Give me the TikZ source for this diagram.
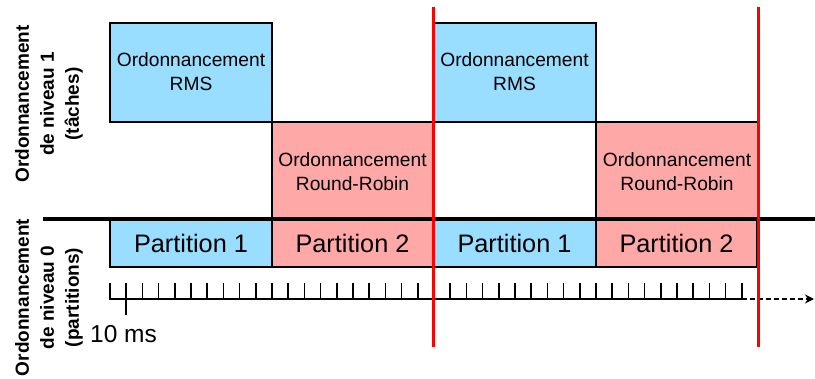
\documentclass[tikz,border=0pt]{standalone}
\usepackage{fontspec}
\setmainfont{Liberation Sans}
\usetikzlibrary{arrows.meta}
\definecolor{bleu}{RGB}{153,221,255}
\definecolor{rose}{RGB}{255,168,168}
\begin{document}
\begin{tikzpicture}[x=1pt,y=-1pt,
  boxline/.style={draw=black,line width=1.8pt},
  bluebox/.style={boxline,fill=bleu},
  pinkbox/.style={boxline,fill=rose},
  boxtext/.style={align=center,inner sep=0pt,font=\fontsize{19.2}{24}\selectfont},
  parttext/.style={inner sep=0pt,font=\fontsize{25.3}{30}\selectfont},
  sidelabel/.style={rotate=90,align=center,inner sep=0pt,font=\fontsize{19}{25}\selectfont\bfseries},
  period/.style={draw=red,line width=3pt},
  tick/.style={line width=1.7pt},
  axis/.style={line width=1.7pt}]
\useasboundingbox (0,0) rectangle (815,379);
% level 1 boxes
\path[bluebox] (110,23) rectangle (272,122);
\node[boxtext] (rms1) at (191,72) {Ordonnancement\\RMS};
\path[pinkbox] (272,122) rectangle (433,219);
\node[boxtext] (rr1) at (352.5,172) {Ordonnancement\\Round-Robin};
\path[bluebox] (433,23) rectangle (596,122);
\node[boxtext] (rms2) at (514.5,72) {Ordonnancement\\RMS};
\path[pinkbox] (596,122) rectangle (758,219);
\node[boxtext] (rr2) at (677,172) {Ordonnancement\\Round-Robin};
% level 0 partitions
\path[bluebox] (110,219) rectangle (272,267);
\node[parttext] (p1a) at (191,243) {Partition 1};
\path[pinkbox] (272,219) rectangle (433,267);
\node[parttext] (p2a) at (352.5,243) {Partition 2};
\path[bluebox] (433,219) rectangle (596,267);
\node[parttext] (p1b) at (514.5,243) {Partition 1};
\path[pinkbox] (596,219) rectangle (757,267);
\node[parttext] (p2b) at (676.5,243) {Partition 2};
% separator
\coordinate (sepL) at (43,219);
\coordinate (sepR) at (815,219);
\draw[line width=4pt] (sepL) -- (sepR);
% time axis
\coordinate (ax0) at (109.15,299);
\coordinate (ax1) at (742,299);
\coordinate (axEnd) at (814,299);
\draw[axis] (ax0) -- (ax1);
\draw[axis,dash pattern=on 5pt off 3pt,-{Stealth[length=9pt,width=9pt]}] (ax1) -- (axEnd);
\foreach \k in {0,...,39}{
  \draw[tick] ({110+16.2*\k},283) -- ({110+16.2*\k},299);
}
\draw[tick] (126.2,299) -- (126.2,315);
\node[anchor=base west,inner sep=0pt,font=\fontsize{24.5}{28}\selectfont] (ms) at (90,343) {10 ms};
% period lines
\draw[period] (433,7) -- (433,347);
\draw[period] (758,7) -- (758,347);
% side labels
\node[sidelabel] (lab1) at (49,104) {Ordonnancement\\de niveau 1\\(tâches)};
\node[sidelabel] (lab0) at (49,297.5) {Ordonnancement\\de niveau 0\\(partitions)};
\end{tikzpicture}
\end{document}
